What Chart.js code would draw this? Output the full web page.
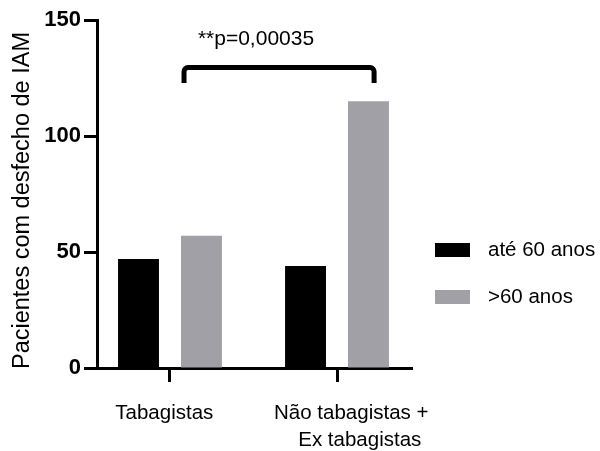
<!DOCTYPE html>
<html>
<head>
<meta charset="utf-8">
<script src="https://cdn.jsdelivr.net/npm/chart.js@4"></script>
<style>
  html, body { margin: 0; padding: 0; background: #fff; }
  #wrap { width: 600px; height: 451px; }
</style>
</head>
<body>
<div id="wrap"><canvas id="iam"></canvas></div>
<script>
// categorias (espacos so para deslocar o texto como no original)
var grupos = ['Tabagistas  ', ['     Não tabagistas +', '        Ex tabagistas']];
var ate60 = [47, 44];
var mais60 = [57, 115];
var yTicks = [0, 50, 100, 150];
var series = ['até 60 anos', '>60 anos'];
var cores = ['#000000', '#a0a0a6'];
var pTexto = '**p=0,00035';

var fonte = 'Liberation Sans, Arial, sans-serif';

function pontos(vals) {
    return vals.map(function(v, i) { return {x: i, y: v}; });
}

// colchete de significancia entre as barras cinzas
var colchete = {
    id: 'colchete',
    afterDatasetsDraw: function(chart) {
        var ctx = chart.ctx, xs = chart.scales.x, ys = chart.scales.y;
        var x1 = xs.getPixelForValue(0.084), x2 = xs.getPixelForValue(1.222);
        var yt = ys.getPixelForValue(129.5), yb = ys.getPixelForValue(122.8);
        ctx.save();
        ctx.strokeStyle = '#000';
        ctx.lineWidth = 5;
        ctx.lineJoin = 'round';
        ctx.beginPath();
        ctx.moveTo(x1, yb);
        ctx.arcTo(x1, yt, x1 + 6, yt, 4);
        ctx.arcTo(x2, yt, x2, yt + 6, 4);
        ctx.lineTo(x2, yb);
        ctx.stroke();
        ctx.fillStyle = '#000';
        ctx.font = '21px ' + fonte;
        ctx.textAlign = 'center';
        ctx.textBaseline = 'alphabetic';
        ctx.fillText(pTexto, xs.getPixelForValue(0.515), ys.getPixelForValue(139.2));
        ctx.restore();
    }
};

// legenda ao lado
var legenda = {
    id: 'legenda',
    afterDraw: function(chart) {
        var ctx = chart.ctx, a = chart.chartArea;
        var x0 = a.right + 23, y0 = 243;
        ctx.save();
        ctx.font = '20.5px ' + fonte;
        ctx.textBaseline = 'middle';
        ctx.textAlign = 'left';
        chart.data.datasets.forEach(function(ds, i) {
            var y = y0 + i * 47;
            ctx.fillStyle = ds.backgroundColor;
            ctx.fillRect(x0, y, 35, 14);
            ctx.fillStyle = '#000';
            ctx.fillText(ds.label, x0 + 53, y + 7);
        });
        ctx.restore();
    }
};

var ctx = document.getElementById('iam');
var myChart = new Chart(ctx, {
    type: 'bar',
    data: {
        datasets: [{
            label: series[0],
            data: pontos(ate60),
            backgroundColor: cores[0]
        }, {
            label: series[1],
            data: pontos(mais60),
            backgroundColor: cores[1]
        }]
    },
    options: {
        responsive: true,
        maintainAspectRatio: false,
        animation: false,
        categoryPercentage: 0.754,
        barPercentage: 0.65,
        layout: { padding: { top: 20, right: 188, left: 0, bottom: 0 } },
        plugins: {
            legend: { display: false },
            tooltip: { enabled: false }
        },
        scales: {
            x: {
                type: 'linear',
                min: -0.437,
                max: 1.449,
                offset: false,
                afterBuildTicks: function(scale) {
                    scale.ticks = grupos.map(function(g, i) { return {value: i}; });
                },
                afterFit: function(scale) { scale.height = 83; },
                grid: {
                    offset: false,
                    drawOnChartArea: false,
                    tickLength: 14,
                    tickWidth: 3,
                    tickColor: '#000'
                },
                border: { color: '#000', width: 3 },
                ticks: {
                    autoSkip: false,
                    maxRotation: 0,
                    padding: 18,
                    color: '#000',
                    font: { family: fonte, size: 20.5, lineHeight: 1.3 },
                    callback: function(v) { return grupos[v]; }
                }
            },
            y: {
                min: 0,
                max: 150,
                afterBuildTicks: function(scale) {
                    scale.ticks = yTicks.map(function(v) { return {value: v}; });
                },
                afterFit: function(scale) { scale.width = 97; },
                grid: {
                    drawOnChartArea: false,
                    tickLength: 13,
                    tickWidth: 3,
                    tickColor: '#000'
                },
                border: { color: '#000', width: 3 },
                ticks: {
                    padding: 3,
                    color: '#000',
                    font: { family: fonte, size: 22, weight: 'bold' }
                },
                title: {
                    display: true,
                    text: 'Pacientes com desfecho de IAM  ',
                    color: '#000',
                    padding: { top: 8, bottom: 0 },
                    font: { family: fonte, size: 23.5, lineHeight: 1.2 }
                }
            }
        }
    },
    plugins: [colchete, legenda]
});
</script>
</body>
</html>
